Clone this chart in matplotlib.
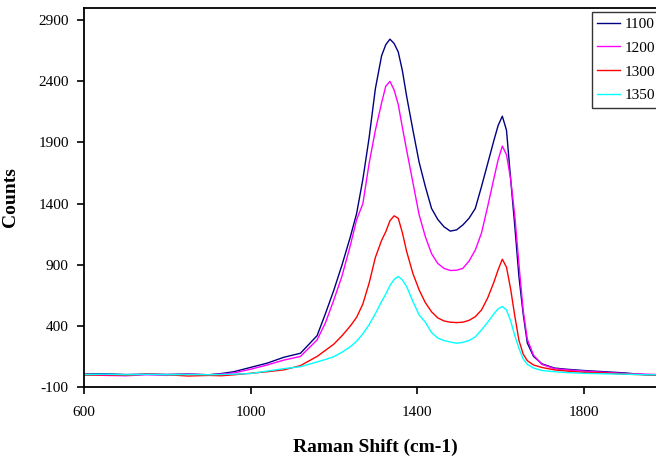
import matplotlib
matplotlib.use('Agg')
import matplotlib.pyplot as plt

# ==========================================
# DATA
# ==========================================
shift = [600, 650, 700, 750, 800, 850, 900, 930, 960, 1000,
         1040, 1080, 1120, 1160, 1180, 1200, 1220, 1240, 1255, 1270,
         1285, 1300, 1315, 1325, 1335, 1345, 1355, 1365, 1375, 1390,
         1405, 1420, 1435, 1450, 1465, 1480, 1495, 1510, 1525, 1540,
         1555, 1570, 1585, 1595, 1605, 1615, 1625, 1635, 1645, 1655,
         1665, 1680, 1700, 1730, 1760, 1800, 1850, 1900, 1950, 2000]

counts_1100 = [5, 8, 2, 5, 3, 6, 0, 10, 25, 60,
               95, 143, 176, 320, 500, 690, 900, 1130, 1320, 1600,
               1940, 2340, 2610, 2700, 2745, 2710, 2640, 2485, 2280, 2005,
               1740, 1540, 1360, 1270, 1210, 1175, 1185, 1225, 1280, 1360,
               1540, 1730, 1920, 2040, 2115, 2000, 1600, 1214, 800, 500,
               260, 150, 90, 55, 45, 35, 25, 15, 0, -5]

counts_1200 = [0, -5, -8, 0, -5, 5, 0, 5, 15, 45,
               80, 120, 150, 285, 425, 610, 810, 1060, 1269, 1400,
               1730, 2000, 2225, 2361, 2400, 2330, 2210, 2020, 1840, 1575,
               1310, 1130, 990, 910, 870, 853, 855, 870, 930, 1020,
               1160, 1380, 1610, 1760, 1870, 1800, 1600, 1300, 900, 530,
               290, 160, 85, 50, 40, 30, 20, 10, 5, 0]

counts_1300 = [-5, 0, -5, 5, 0, -10, -5, -8, 0, 12,
               25, 40, 75, 150, 200, 250, 320, 400, 470, 580,
               750, 960, 1100, 1170, 1260, 1300, 1280, 1160, 1010, 830,
               695, 590, 515, 465, 440, 430, 427, 430, 445, 475,
               530, 630, 760, 860, 945, 880, 700, 480, 280, 170,
               115, 80, 60, 40, 30, 20, 15, 5, 0, -5]

counts_1350 = [0, 5, 0, 3, 0, 2, 0, 2, 5, 10,
               30, 50, 66, 105, 125, 148, 185, 230, 275, 335,
               410, 500, 600, 660, 730, 780, 804, 775, 722, 600,
               490, 430, 345, 300, 280, 268, 258, 265, 280, 310,
               367, 430, 500, 540, 558, 530, 440, 320, 215, 130,
               85, 55, 35, 25, 18, 12, 8, 5, 0, 0]

labels = ['1100', '1200', '1300', '1350']
colors = ['#000080', '#ff00ff', '#ff0000', '#00ffff']

y_ticks = [-100, 400, 900, 1400, 1900, 2400, 2900]
x_ticks = [600, 1000, 1400, 1800]

# ==========================================
# PLOT
# ==========================================
plt.rcParams['font.family'] = ['Liberation Serif', 'DejaVu Serif']
plt.rcParams['axes.unicode_minus'] = False  # the original shows "-100"

fig = plt.figure(figsize=(6.56, 4.57), dpi=100)
# axes run past the right edge, like the cropped original
ax = fig.add_axes([84 / 656, 1 - 387 / 457, 582.75 / 656, 379 / 457])

series = [counts_1100, counts_1200, counts_1300, counts_1350]
for vals, lab, col in zip(series, labels, colors):
    ax.plot(shift, vals, color=col, linewidth=1.0, label=lab)

ax.set_xlim(600, 2000)
ax.set_ylim(-100, 3000)
ax.set_xticks(x_ticks)
ax.set_yticks(y_ticks)
ax.tick_params(direction='out', length=5, width=1.2, labelsize=11, pad=6)
ax.tick_params(axis='x', pad=9)

for sp in ax.spines.values():
    sp.set_linewidth(1.3)

ax.set_xlabel('Raman Shift (cm-1)', fontsize=14, fontweight='bold', labelpad=14)
ax.set_ylabel('Counts', fontsize=14, fontweight='bold', labelpad=14)

# legend box sits against the right edge, partly cut like the original
leg = fig.legend(loc='upper left', bbox_to_anchor=(592 / 656, 1 - 12 / 457),
                 fontsize=11, frameon=True, fancybox=False, borderaxespad=0,
                 handlelength=1.5, handletextpad=0.3, labelspacing=0.66,
                 borderpad=0.35)
leg.get_frame().set_edgecolor('black')
leg.get_frame().set_linewidth(1.0)

fig.savefig('out.png', dpi=100)
